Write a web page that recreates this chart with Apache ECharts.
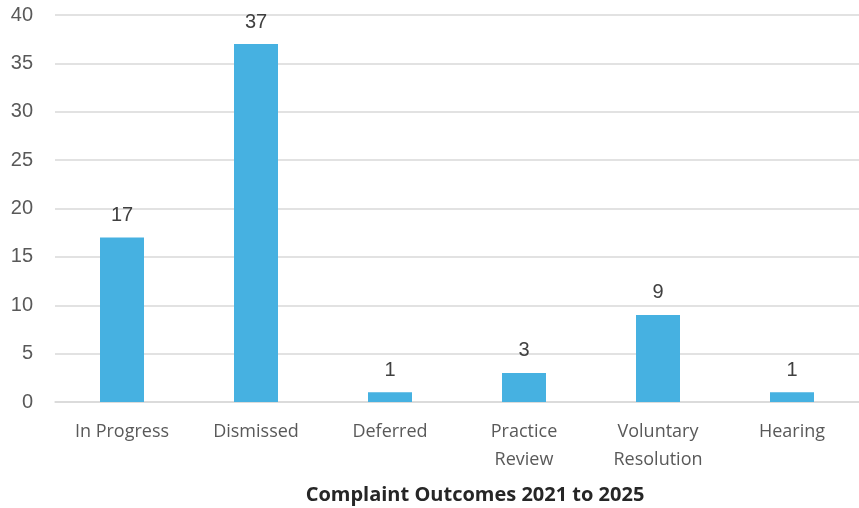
<!DOCTYPE html>
<html><head><meta charset="utf-8">
<script src="https://cdn.jsdelivr.net/npm/echarts@6/dist/echarts.min.js"></script>
<style>html,body{margin:0;padding:0;background:#fff}#c{width:859px;height:508px}</style>
</head><body><div id="c"></div>
<script>
const categories = ['In Progress','Dismissed','Deferred','Practice\nReview','Voluntary\nResolution','Hearing'];
const values = [17, 37, 1, 3, 9, 1];
const yTicks = {min: 0, max: 40, interval: 5};
const titleText = 'Complaint Outcomes 2021 to 2025';

const chart = echarts.init(document.getElementById('c'), null, {renderer:'canvas'});
chart.setOption({
  animation: false,
  backgroundColor: '#ffffff',
  title: {
    text: titleText, left: 470, top: 480, textAlign: 'center',
    textStyle: {fontFamily: 'Open Sans', fontWeight: 'bold', fontSize: 20, color: '#262626'}
  },
  grid: {left: 55, right: 0, top: 15, bottom: 106},
  xAxis: {
    type: 'category', data: categories,
    axisLine: {show: true, lineStyle: {color: '#d9d9d9', width: 1.5}},
    axisTick: {show: false},
    axisLabel: {fontFamily: 'Open Sans', fontSize: 18, color: '#595959', margin: 16, lineHeight: 28, interval: 0}
  },
  yAxis: {
    type: 'value', min: yTicks.min, max: yTicks.max, interval: yTicks.interval,
    axisLine: {show: false}, axisTick: {show: false},
    splitLine: {lineStyle: {color: '#d9d9d9', width: 1.5}},
    axisLabel: {fontFamily: 'Liberation Sans', fontSize: 20, color: '#595959', margin: 22}
  },
  series: [{
    type: 'bar', data: values, barWidth: 44,
    itemStyle: {color: '#46B1E1'},
    label: {show: true, position: 'top', distance: 12, fontFamily: 'Liberation Sans', fontSize: 20, color: '#404040'}
  }]
});
</script></body></html>
